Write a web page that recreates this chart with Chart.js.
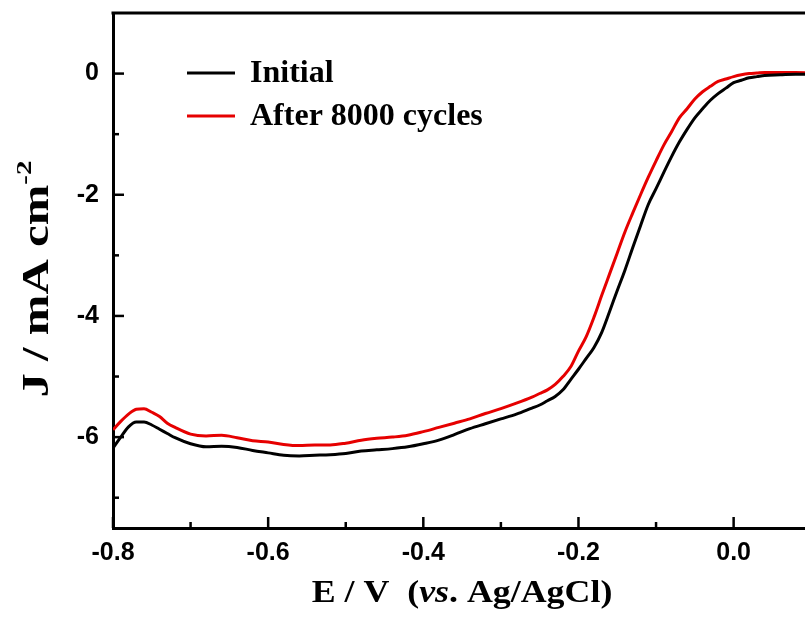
<!DOCTYPE html>
<html>
<head>
<meta charset="utf-8">
<title>ORR polarization curves</title>
<script src="https://cdn.jsdelivr.net/npm/chart.js@4/dist/chart.umd.min.js"></script>
<style>
  html, body { margin: 0; padding: 0; background: #fff; }
  #wrap { width: 805px; height: 617px; position: relative; }
</style>
</head>
<body>
<div id="wrap"><canvas id="lsv"></canvas></div>
<script>
// Electrode potential (V vs. Ag/AgCl)
const potential = [
  -0.80, -0.79, -0.78, -0.77, -0.76, -0.75, -0.74, -0.73, -0.72, -0.70,
  -0.68, -0.66, -0.64, -0.62, -0.60, -0.58, -0.56, -0.54, -0.52, -0.50,
  -0.48, -0.46, -0.44, -0.42, -0.40, -0.38, -0.36, -0.34, -0.32, -0.30,
  -0.28, -0.26, -0.25, -0.24, -0.23, -0.22, -0.21, -0.20, -0.19, -0.18,
  -0.17, -0.16, -0.15, -0.14, -0.13, -0.12, -0.11, -0.10, -0.09, -0.08,
  -0.07, -0.06, -0.05, -0.04, -0.03, -0.02, -0.01, 0.00, 0.01, 0.02,
  0.03, 0.04, 0.06, 0.08, 0.10
];

// Current density J (mA cm^-2), fresh catalyst
const initialCurrent = [
  -6.18, -6.00, -5.83, -5.75, -5.75, -5.80, -5.87, -5.94, -6.01, -6.11,
  -6.16, -6.15, -6.17, -6.22, -6.26, -6.30, -6.31, -6.30, -6.29, -6.27,
  -6.23, -6.21, -6.19, -6.16, -6.11, -6.05, -5.96, -5.86, -5.78, -5.70,
  -5.62, -5.52, -5.47, -5.40, -5.33, -5.22, -5.05, -4.88, -4.70, -4.52,
  -4.27, -3.93, -3.58, -3.24, -2.87, -2.51, -2.16, -1.90, -1.63, -1.37,
  -1.13, -0.92, -0.73, -0.58, -0.44, -0.33, -0.24, -0.15, -0.11, -0.07,
  -0.05, -0.03, -0.02, -0.01, -0.01
];

// Current density J (mA cm^-2), after 8000 potential cycles
const cycledCurrent = [
  -5.88, -5.74, -5.62, -5.54, -5.53, -5.59, -5.66, -5.77, -5.84, -5.95,
  -5.98, -5.97, -6.01, -6.06, -6.08, -6.12, -6.14, -6.13, -6.13, -6.10,
  -6.05, -6.02, -6.00, -5.97, -5.91, -5.84, -5.77, -5.70, -5.61, -5.53,
  -5.44, -5.34, -5.28, -5.22, -5.13, -5.00, -4.84, -4.58, -4.34, -4.02,
  -3.66, -3.31, -2.96, -2.61, -2.30, -2.00, -1.71, -1.44, -1.18, -0.96,
  -0.73, -0.58, -0.42, -0.30, -0.21, -0.13, -0.09, -0.05, -0.02, 0.00,
  0.01, 0.02, 0.02, 0.02, 0.01
];

const seriesNames = ['Initial', 'After 8000 cycles'];
const seriesColors = ['#000000', '#e60000'];

const xMajorTicks = [-0.8, -0.6, -0.4, -0.2, 0.0];
const xMinorTicks = [-0.7, -0.5, -0.3, -0.1];
const yMajorTicks = [0, -2, -4, -6];
const yMinorTicks = [-1, -3, -5, -7];

const X_MIN = -0.8, X_MAX = 0.092;
const Y_MIN = -7.5, Y_MAX = 1;

const toPoints = (xs, ys) => xs.map((x, i) => ({ x: x, y: ys[i] }));

const SERIF = '"Liberation Serif", "Times New Roman", serif';
const SANS = '"Liberation Sans", Arial, sans-serif';

// Draws a sequence of differently styled text runs starting at (x, y)
function drawRuns(ctx, runs, x, y) {
  let cx = x;
  runs.forEach(r => {
    ctx.font = r.font;
    ctx.fillText(r.text, cx, y - (r.rise || 0));
    cx += ctx.measureText(r.text).width;
  });
}
function runsWidth(ctx, runs) {
  let w = 0;
  runs.forEach(r => { ctx.font = r.font; w += ctx.measureText(r.text).width; });
  return w;
}

// Frame, inward ticks, legend and axis titles
const decorations = {
  id: 'decorations',
  afterDraw(chart) {
    const { ctx, chartArea: a, scales: { x, y } } = chart;
    ctx.save();
    ctx.strokeStyle = '#000';
    ctx.fillStyle = '#000';
    ctx.lineCap = 'butt';

    // top frame line
    ctx.lineWidth = 3;
    ctx.beginPath();
    ctx.moveTo(a.left - 1.5, a.top);
    ctx.lineTo(a.right, a.top);
    ctx.stroke();

    // inward ticks
    ctx.lineWidth = 2.5;
    const tick = (x1, y1, x2, y2) => { ctx.beginPath(); ctx.moveTo(x1, y1); ctx.lineTo(x2, y2); ctx.stroke(); };
    xMajorTicks.forEach(v => { const p = x.getPixelForValue(v); tick(p, a.bottom, p, a.bottom - 11); });
    xMinorTicks.forEach(v => { const p = x.getPixelForValue(v); tick(p, a.bottom, p, a.bottom - 6); });
    yMajorTicks.forEach(v => { const p = y.getPixelForValue(v); tick(a.left, p, a.left + 11, p); });
    yMinorTicks.forEach(v => { const p = y.getPixelForValue(v); tick(a.left, p, a.left + 6, p); });

    // legend
    ctx.textBaseline = 'middle';
    ctx.textAlign = 'left';
    chart.data.datasets.forEach((ds, i) => {
      const ly = 73 + i * 43;
      ctx.strokeStyle = ds.borderColor;
      ctx.lineWidth = 3;
      tick(187, ly, 235, ly);
      ctx.fillStyle = '#000';
      ctx.font = 'bold 32px ' + SERIF;
      ctx.fillText(ds.label, 250, ly + 1);
    });

    // x axis title
    ctx.textBaseline = 'alphabetic';
    const xRuns = [
      { text: 'E / V  (', font: 'bold 32px ' + SERIF },
      { text: 'vs', font: 'italic bold 32px ' + SERIF },
      { text: '. Ag/AgCl)', font: 'bold 32px ' + SERIF }
    ];
    const xStretch = 1.12;
    const xw = runsWidth(ctx, xRuns) * xStretch;
    ctx.save();
    ctx.translate((a.left + a.right) / 2 - xw / 2 + 3, 602);
    ctx.scale(xStretch, 1);
    drawRuns(ctx, xRuns, 0, 0);
    ctx.restore();

    // y axis title (rotated)
    const yRuns = [
      { text: 'J / mA cm', font: 'bold 37px ' + SERIF },
      { text: '-2', font: 'bold 22px ' + SERIF, rise: 17 }
    ];
    const yStretch = 1.32;
    const yw = runsWidth(ctx, yRuns) * yStretch;
    ctx.translate(48, 279);
    ctx.rotate(-Math.PI / 2);
    ctx.translate(-yw / 2, 0);
    ctx.scale(yStretch, 1);
    drawRuns(ctx, yRuns, 0, 0);
    ctx.restore();
  }
};

new Chart(document.getElementById('lsv'), {
  type: 'line',
  data: {
    datasets: [
      {
        label: seriesNames[0],
        data: toPoints(potential, initialCurrent),
        borderColor: seriesColors[0],
        borderWidth: 3,
        pointRadius: 0,
        cubicInterpolationMode: 'monotone',
        fill: false
      },
      {
        label: seriesNames[1],
        data: toPoints(potential, cycledCurrent),
        borderColor: seriesColors[1],
        borderWidth: 3,
        pointRadius: 0,
        cubicInterpolationMode: 'monotone',
        fill: false
      }
    ]
  },
  options: {
    responsive: true,
    maintainAspectRatio: false,
    animation: false,
    layout: { padding: { top: 13, right: 0, bottom: 0, left: 0 } },
    plugins: {
      legend: { display: false },
      tooltip: { enabled: false }
    },
    scales: {
      x: {
        type: 'linear',
        min: X_MIN,
        max: X_MAX,
        afterBuildTicks: s => { s.ticks = xMajorTicks.map(v => ({ value: v })); },
        afterFit: s => { s.height = 89; s.paddingLeft = 0; s.paddingRight = 0; },
        ticks: {
          color: '#000',
          padding: 10,
          maxRotation: 0,
          font: { family: SANS, size: 25, weight: 'bold' },
          callback: v => v.toFixed(1)
        },
        grid: { display: true, drawOnChartArea: false, drawTicks: false },
        border: { display: true, color: '#000', width: 3 }
      },
      y: {
        type: 'linear',
        min: Y_MIN,
        max: Y_MAX,
        afterBuildTicks: s => { s.ticks = yMajorTicks.map(v => ({ value: v })); },
        afterFit: s => { s.width = 113; s.paddingTop = 0; s.paddingBottom = 0; },
        ticks: {
          color: '#000',
          padding: 14,
          font: { family: SANS, size: 25, weight: 'bold' },
          callback: v => String(v)
        },
        grid: { display: true, drawOnChartArea: false, drawTicks: false },
        border: { display: true, color: '#000', width: 3 }
      }
    }
  },
  plugins: [decorations]
});
</script>
</body>
</html>
